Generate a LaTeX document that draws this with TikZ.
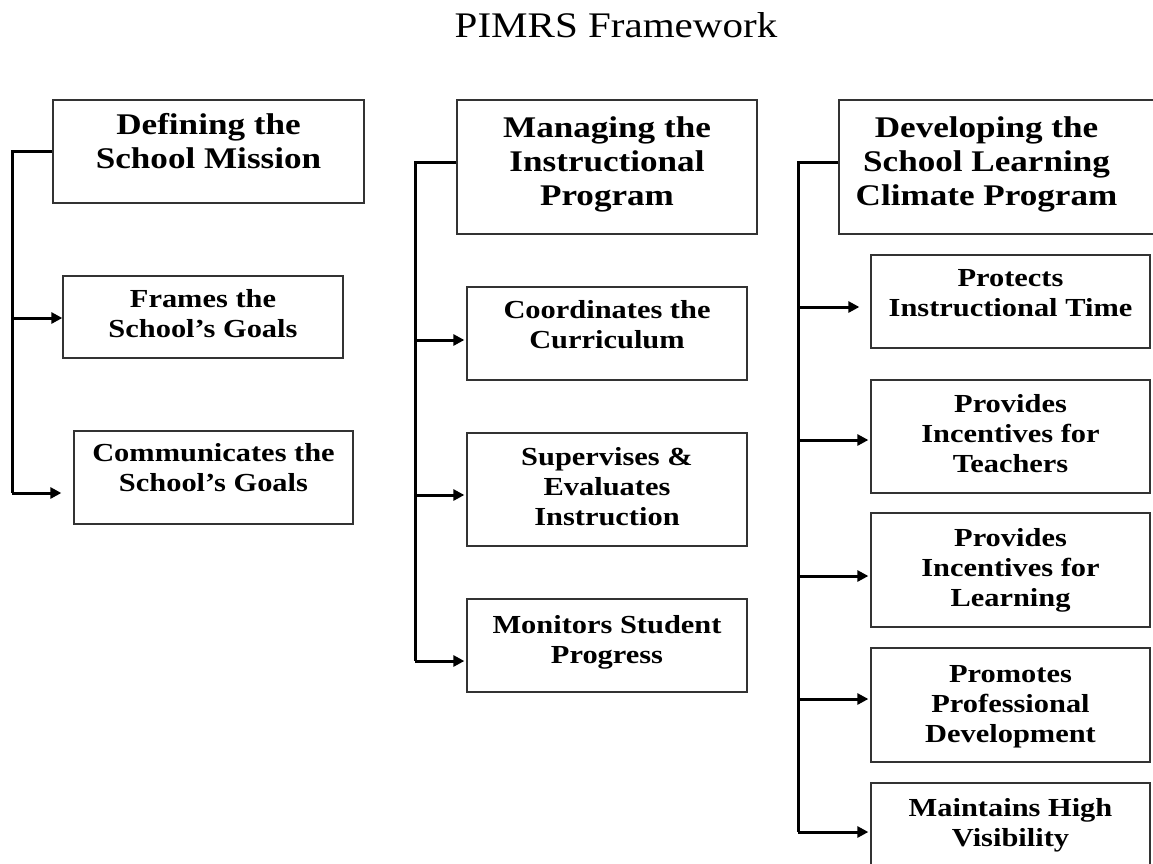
\documentclass[tikz,border=0pt]{standalone}
\usepackage{fontspec}
\usetikzlibrary{arrows.meta}
\newfontfamily\boxfont{Liberation Serif}[FakeStretch=1.17]
\newfontfamily\titlefont{Liberation Serif}[FakeStretch=1.14]
\newcommand\boxtext[2]{\raisebox{#1pt}[\height][\depth]{\begin{tabular}{@{}c@{}}#2\end{tabular}}}
\tikzset{
  box/.style={draw=black!80, line width=1.3pt, fill=white, inner sep=0pt, align=center},
  hdr/.style={box, font=\boxfont\bfseries\fontsize{30}{34}\selectfont},
  sub/.style={box, font=\boxfont\bfseries\fontsize{26}{30}\selectfont},
  conn/.style={line width=3pt, line join=miter},
  arr/.style={conn, -{Triangle[length=11pt,width=11pt]}}
}
\begin{document}
\begin{tikzpicture}[x=1pt,y=-1pt]
\useasboundingbox (0,0) rectangle (1153,863);
\clip (0,0) rectangle (1153,863);
\node[font=\titlefont\fontsize{36}{42}\selectfont, anchor=base] (title) at (616,37) {PIMRS Framework};

% column 1
\node[hdr, minimum width=311, minimum height=103] (defn) at (208.5,151.5) {\boxtext{7}{Defining the\\School Mission}};
\node[sub, minimum width=280, minimum height=82] (frames) at (203,317) {\boxtext{1}{Frames the\\School’s Goals}};
\node[sub, minimum width=279, minimum height=93] (comm) at (213.5,477.5) {\boxtext{7}{Communicates the\\School’s Goals}};

% column 2
\node[hdr, minimum width=300, minimum height=134] (manage) at (607,167) {\boxtext{2}{Managing the\\Instructional\\Program}};
\node[sub, minimum width=280, minimum height=93] (coord) at (607,333.5) {\boxtext{6}{Coordinates the\\Curriculum}};
\node[sub, minimum width=280, minimum height=113] (superv) at (607,489.5) {\boxtext{0}{Supervises \&\\Evaluates\\Instruction}};
\node[sub, minimum width=280, minimum height=93] (monit) at (607,645.5) {\boxtext{3}{Monitors Student\\Progress}};

% column 3
\node[hdr, minimum width=321, minimum height=134] (develop) at (999.5,167) {\boxtext{2}{Developing the\\School Learning\\Climate Program}\hspace*{26pt}};
\node[sub, minimum width=279, minimum height=93] (protect) at (1010.5,301.5) {\boxtext{6}{Protects\\Instructional Time}};
\node[sub, minimum width=279, minimum height=113] (teach) at (1010.5,436.5) {\boxtext{0}{Provides\\Incentives for\\Teachers}};
\node[sub, minimum width=279, minimum height=114] (learn) at (1010.5,570) {\boxtext{0}{Provides\\Incentives for\\Learning}};
\node[sub, minimum width=279, minimum height=114] (promote) at (1010.5,705) {\boxtext{-1}{Promotes\\Professional\\Development}};
\node[sub, minimum width=279, minimum height=114] (maintain) at (1010.5,840) {\boxtext{15}{Maintains High\\Visibility}};

% spines
\coordinate (ltop) at (12,151.5);
\coordinate (l1) at (12,318);
\coordinate (l2) at (12,493);
\coordinate (mtop) at (415,162);
\coordinate (m1) at (415,340);
\coordinate (m2) at (415,495);
\coordinate (m3) at (415,661);
\coordinate (rtop) at (798,162);
\coordinate (r1) at (798,307);
\coordinate (r2) at (798,440);
\coordinate (r3) at (798,576);
\coordinate (r4) at (798,699);
\coordinate (r5) at (798,832);

\draw[conn] (defn.west) -- (ltop) -- (l2);
\draw[arr] (l1) -- (l1 -| frames.west);
\draw[arr, shorten >=12pt] (l2) -- (l2 -| comm.west);

\draw[conn] (mtop -| manage.west) -- (mtop) -- (m3);
\draw[arr, shorten >=2pt] (m1) -- (m1 -| coord.west);
\draw[arr, shorten >=2pt] (m2) -- (m2 -| superv.west);
\draw[arr, shorten >=2pt] (m3) -- (m3 -| monit.west);

\draw[conn] (rtop -| develop.west) -- (rtop) -- (r5);
\draw[arr, shorten >=11pt] (r1) -- (r1 -| protect.west);
\draw[arr, shorten >=2pt] (r2) -- (r2 -| teach.west);
\draw[arr, shorten >=2pt] (r3) -- (r3 -| learn.west);
\draw[arr, shorten >=2pt] (r4) -- (r4 -| promote.west);
\draw[arr, shorten >=2pt] (r5) -- (r5 -| maintain.west);
\end{tikzpicture}
\end{document}
